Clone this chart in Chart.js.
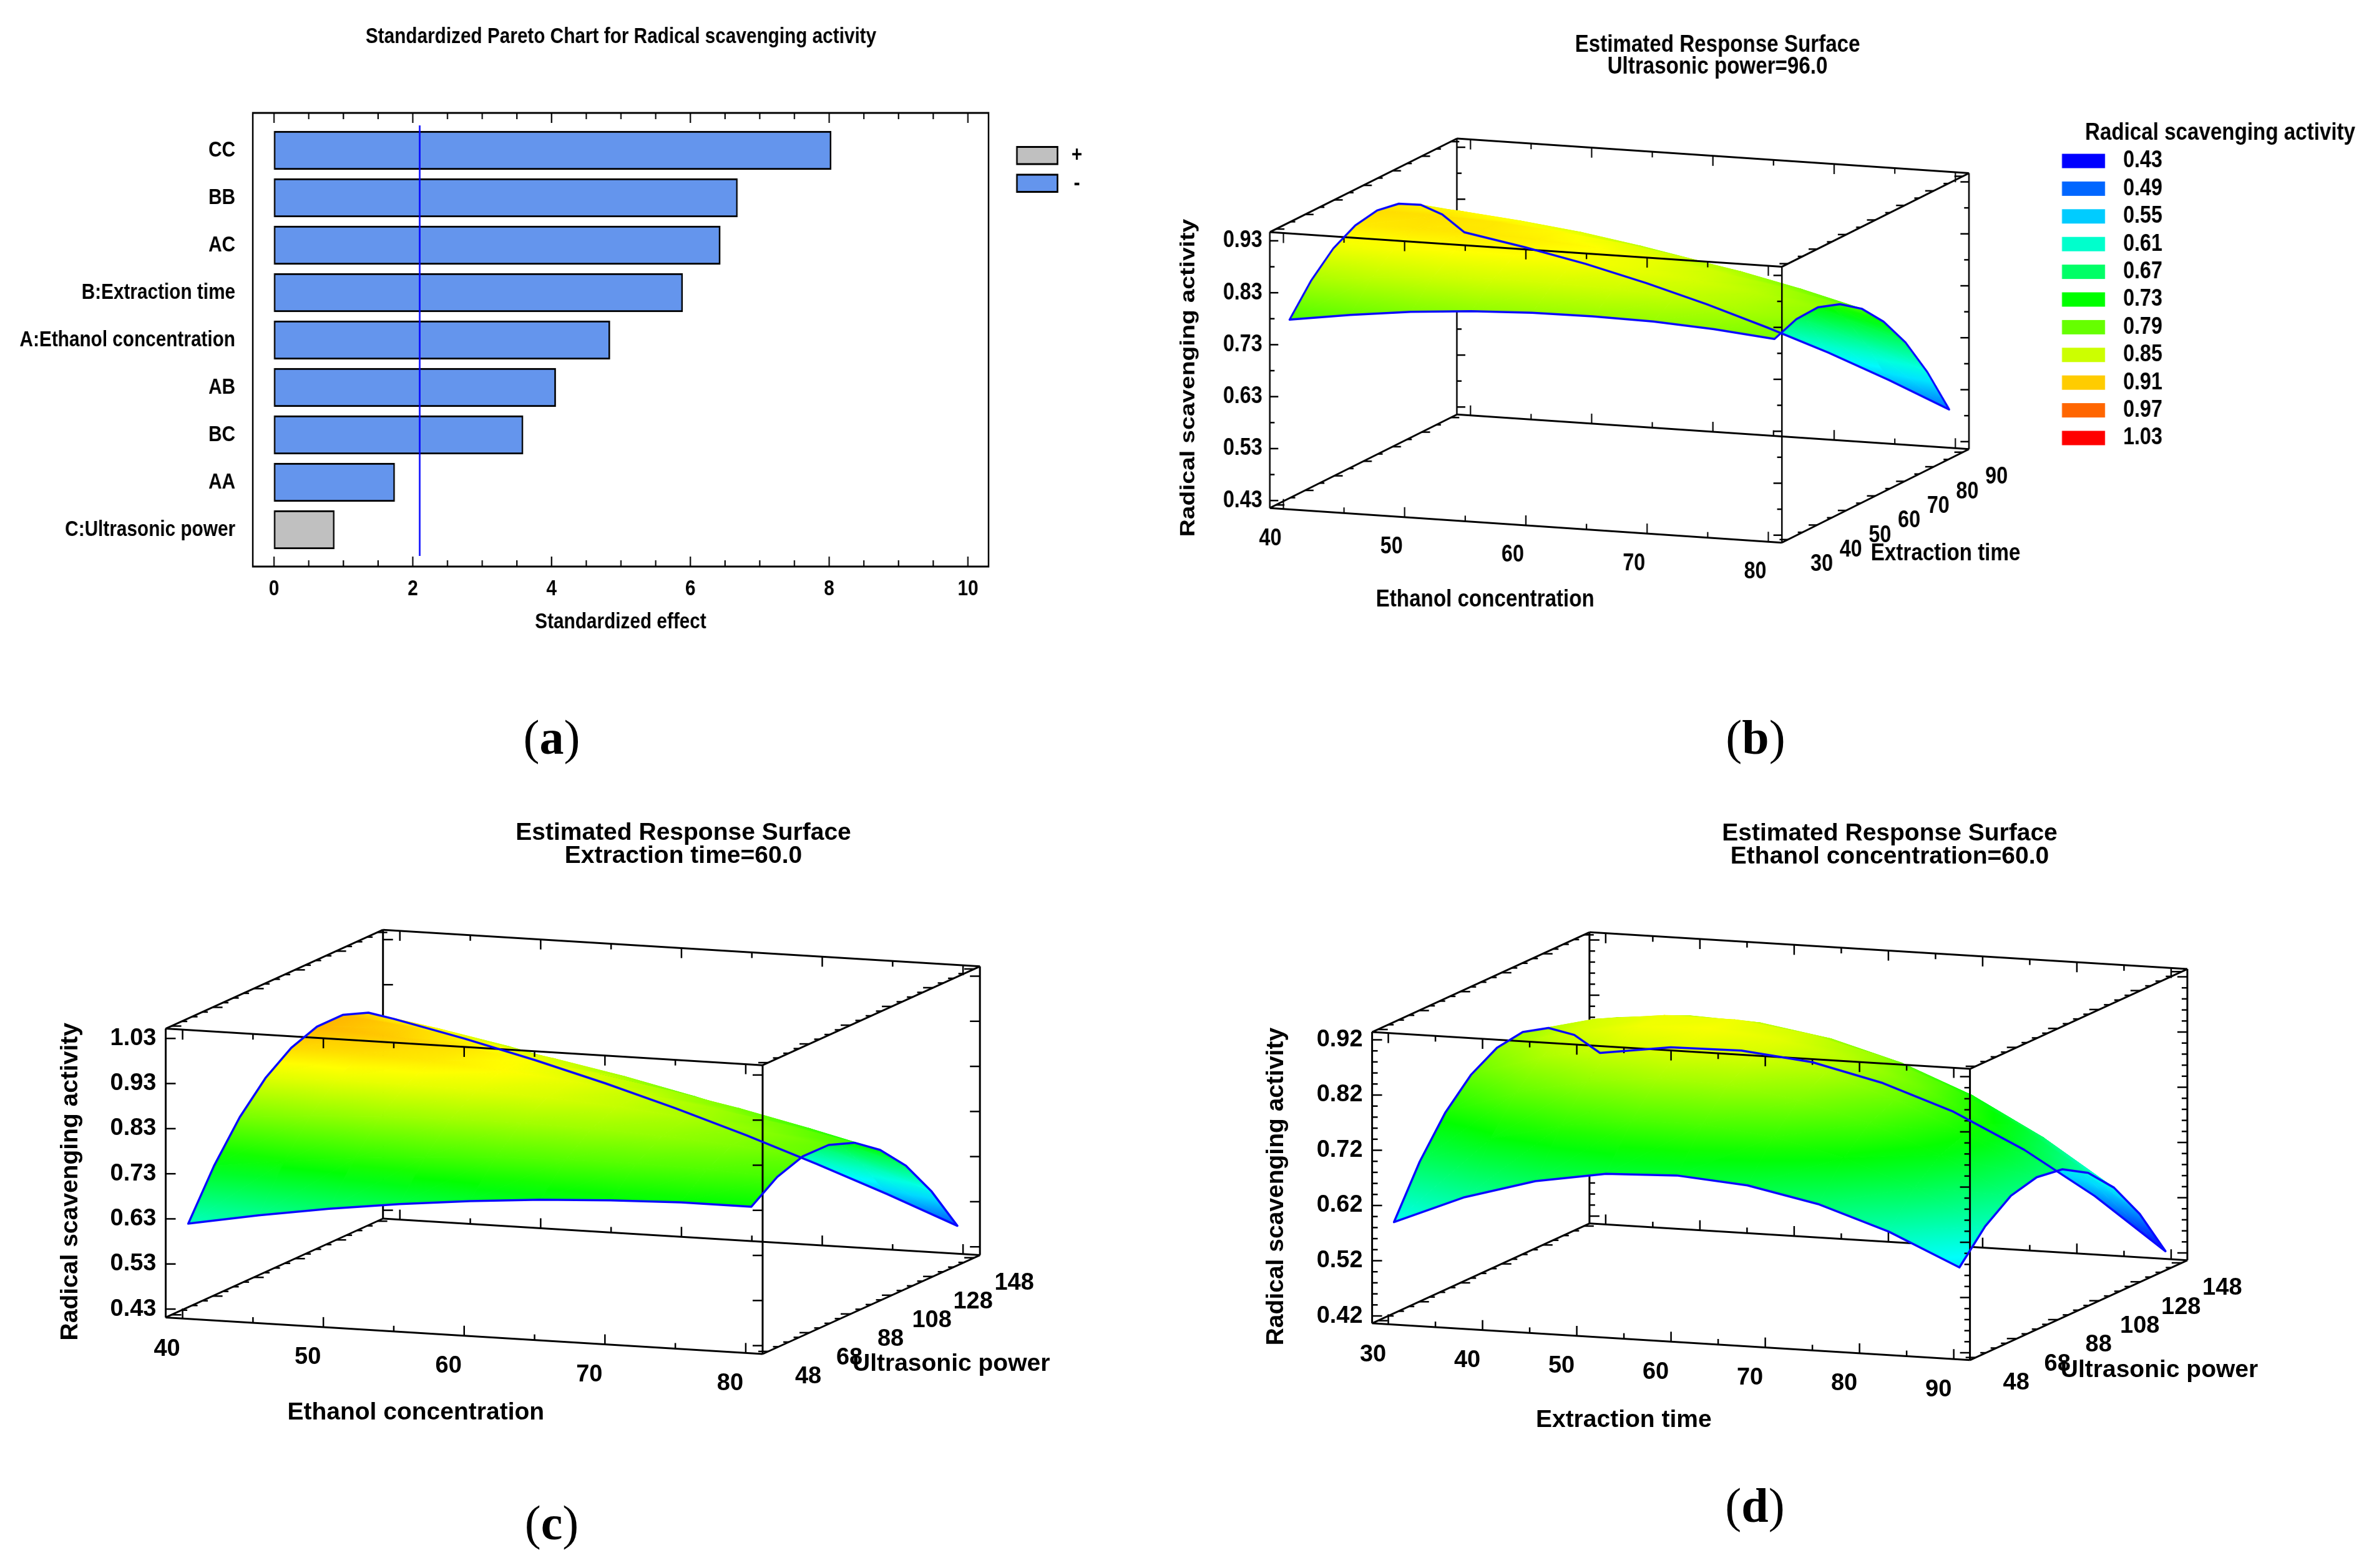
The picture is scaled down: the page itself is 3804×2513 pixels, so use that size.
<!DOCTYPE html>
<html><head><meta charset="utf-8">
<script src="https://cdn.jsdelivr.net/npm/chart.js@4.4.1/dist/chart.umd.min.js"></script>
<style>
html,body{margin:0;padding:0;background:#fff;overflow:hidden;}
body{width:3804px;height:2513px;position:relative;}
.wrap{position:absolute;}
.sq{transform:scaleX(0.85);transform-origin:0 0;}
.plab{position:absolute;font-family:'Liberation Serif','Times New Roman',serif;font-size:78px;line-height:1;transform:translate(-50%,-50%);color:#000;white-space:nowrap;}
</style></head><body>
<div class="wrap sq" style="left:0;top:0;width:2118px;height:1100px"><canvas id="ca" width="2118" height="1100"></canvas></div>
<div class="wrap sq" style="left:1850px;top:0;width:2299px;height:1100px"><canvas id="cb" width="2299" height="1100"></canvas></div>
<div class="wrap" style="left:0;top:1250px;width:1900px;height:1263px"><canvas id="cc" width="1900" height="1263"></canvas></div>
<div class="wrap" style="left:1900px;top:1250px;width:1904px;height:1263px"><canvas id="cd" width="1904" height="1263"></canvas></div>
<div class="plab" style="left:884px;top:1182px">(<b>a</b>)</div>
<div class="plab" style="left:2813px;top:1182px">(<b>b</b>)</div>
<div class="plab" style="left:884px;top:2441px">(<b>c</b>)</div>
<div class="plab" style="left:2812px;top:2413px">(<b>d</b>)</div>
<script>
// ---------------- DATA ----------------
// (a) Pareto chart
const effectNames = ['CC','BB','AC','B:Extraction time','A:Ethanol concentration','AB','BC','AA','C:Ultrasonic power'];
const effectValues = [8.03, 6.68, 6.43, 5.89, 4.84, 4.06, 3.59, 1.74, 0.87];
const effectSigns = ['-','-','-','-','-','-','-','-','+'];
const effectTicks = [0, 2, 4, 6, 8, 10];
const criticalEffect = 2.10;
const paretoTitle = 'Standardized Pareto Chart for Radical scavenging activity';

// colour legend
const legendValues = [0.43, 0.49, 0.55, 0.61, 0.67, 0.73, 0.79, 0.85, 0.91, 0.97, 1.03];

// (b) Ultrasonic power = 96.0 : rows = extraction time, columns = ethanol concentration
const bEthanol = [40, 45, 50, 55, 60, 65, 70, 75, 80];
const bTime = [30, 37.5, 45, 52.5, 60, 67.5, 75, 82.5, 90];
const bRSA = [
  [0.774, 0.791, 0.805, 0.814, 0.819, 0.820, 0.818, 0.811, 0.800],
  [0.829, 0.842, 0.850, 0.855, 0.855, 0.852, 0.844, 0.833, 0.817],
  [0.869, 0.876, 0.880, 0.880, 0.876, 0.867, 0.855, 0.839, 0.819],
  [0.892, 0.895, 0.894, 0.889, 0.880, 0.867, 0.850, 0.829, 0.804],
  [0.900, 0.898, 0.893, 0.883, 0.869, 0.851, 0.830, 0.804, 0.774],
  [0.892, 0.886, 0.875, 0.861, 0.842, 0.820, 0.793, 0.763, 0.728],
  [0.869, 0.857, 0.842, 0.823, 0.800, 0.772, 0.741, 0.706, 0.667],
  [0.829, 0.813, 0.793, 0.769, 0.741, 0.709, 0.673, 0.633, 0.589],
  [0.774, 0.753, 0.729, 0.700, 0.667, 0.630, 0.590, 0.545, 0.496]
];
const bEthanolTicks = [40, 50, 60, 70, 80];
const bTimeTicks = [30, 40, 50, 60, 70, 80, 90];
const bRSATicks = [0.43, 0.53, 0.63, 0.73, 0.83, 0.93];

// (c) Extraction time = 60.0 : rows = ultrasonic power, columns = ethanol concentration
const cEthanol = [40, 45, 50, 55, 60, 65, 70, 75, 80];
const cPower = [48, 60.5, 73, 85.5, 98, 110.5, 123, 135.5, 148];
const cRSA = [
  [0.616, 0.644, 0.668, 0.688, 0.704, 0.717, 0.725, 0.730, 0.730],
  [0.718, 0.738, 0.755, 0.767, 0.775, 0.780, 0.781, 0.777, 0.770],
  [0.800, 0.812, 0.821, 0.825, 0.826, 0.823, 0.816, 0.805, 0.790],
  [0.861, 0.866, 0.866, 0.863, 0.856, 0.845, 0.830, 0.812, 0.789],
  [0.902, 0.899, 0.892, 0.881, 0.866, 0.847, 0.825, 0.798, 0.768],
  [0.923, 0.912, 0.897, 0.878, 0.856, 0.829, 0.799, 0.764, 0.726],
  [0.923, 0.904, 0.881, 0.855, 0.825, 0.790, 0.752, 0.710, 0.665],
  [0.902, 0.876, 0.846, 0.811, 0.773, 0.731, 0.686, 0.636, 0.582],
  [0.862, 0.828, 0.790, 0.748, 0.702, 0.652, 0.598, 0.541, 0.480]
];
const cEthanolTicks = [40, 50, 60, 70, 80];
const cPowerTicks = [48, 68, 88, 108, 128, 148];
const cRSATicks = [0.43, 0.53, 0.63, 0.73, 0.83, 0.93, 1.03];

// (d) Ethanol concentration = 60.0 : rows = ultrasonic power, columns = extraction time
const dTime = [30, 37.5, 45, 52.5, 60, 67.5, 75, 82.5, 90];
const dPower = [48, 60.5, 73, 85.5, 98, 110.5, 123, 135.5, 148];
const dRSA = [
  [0.587, 0.640, 0.677, 0.698, 0.703, 0.693, 0.667, 0.625, 0.568],
  [0.675, 0.724, 0.756, 0.773, 0.774, 0.759, 0.729, 0.683, 0.621],
  [0.743, 0.787, 0.815, 0.828, 0.824, 0.805, 0.771, 0.721, 0.655],
  [0.790, 0.830, 0.854, 0.862, 0.854, 0.831, 0.792, 0.738, 0.667],
  [0.817, 0.853, 0.872, 0.876, 0.864, 0.837, 0.793, 0.734, 0.660],
  [0.824, 0.855, 0.870, 0.870, 0.853, 0.822, 0.774, 0.711, 0.632],
  [0.810, 0.837, 0.848, 0.843, 0.822, 0.786, 0.735, 0.667, 0.584],
  [0.776, 0.799, 0.805, 0.796, 0.771, 0.731, 0.675, 0.603, 0.515],
  [0.722, 0.740, 0.742, 0.729, 0.699, 0.655, 0.594, 0.518, 0.426]
];
const dTimeTicks = [30, 40, 50, 60, 70, 80, 90];
const dPowerTicks = [48, 68, 88, 108, 128, 148];
const dRSATicks = [0.42, 0.52, 0.62, 0.72, 0.82, 0.92];

// ---------------- RENDERING ----------------
const FONT = "'Liberation Sans', Arial, Helvetica, sans-serif";
Chart.defaults.font.family = FONT;
Chart.defaults.color = '#000';

function rampColor(z) {
  const lo = legendValues[0], hi = legendValues[legendValues.length - 1];
  let t = (z - lo) / (hi - lo);
  t = Math.max(0, Math.min(1, t));
  return 'hsl(' + (240 * (1 - t)).toFixed(1) + ',100%,50%)';
}

// ----- (a) Pareto -----
const paretoPlugin = {
  id: 'paretoFrame',
  afterDraw(chart) {
    const ctx = chart.ctx, a = chart.chartArea, x = chart.scales.x;
    ctx.save();
    ctx.strokeStyle = '#000';
    ctx.lineWidth = 3;
    ctx.strokeRect(a.left, a.top, a.right - a.left, a.bottom - a.top);
    ctx.lineWidth = 2.5;
    for (let k = 0; k <= 20; k++) {
      const v = k * 0.5;
      const px = x.getPixelForValue(v);
      const len = (k % 4 === 0) ? 16 : 10;
      ctx.beginPath();
      ctx.moveTo(px, a.top); ctx.lineTo(px, a.top + len);
      ctx.moveTo(px, a.bottom); ctx.lineTo(px, a.bottom - len);
      ctx.stroke();
    }
    const cx = x.getPixelForValue(criticalEffect);
    ctx.strokeStyle = '#0000ff';
    ctx.lineWidth = 3;
    ctx.beginPath(); ctx.moveTo(cx, a.top + 20); ctx.lineTo(cx, a.bottom - 17); ctx.stroke();
    // title
    ctx.fillStyle = '#000';
    ctx.font = 'bold 35px ' + FONT;
    ctx.textAlign = 'center'; ctx.textBaseline = 'middle';
    ctx.fillText(paretoTitle, 1170.6, 59);
    // legend
    const items = [['+', '#c0c0c0', 235.5], ['-', '#6495ed', 280]];
    items.forEach(([lab, col, y]) => {
      ctx.fillStyle = col;
      ctx.fillRect(1917, y, 76.5, 27.5);
      ctx.strokeStyle = '#000'; ctx.lineWidth = 3;
      ctx.strokeRect(1917, y, 76.5, 27.5);
      ctx.fillStyle = '#000';
      ctx.textAlign = 'center';
      ctx.fillText(lab, 2030, y + 14);
    });
    ctx.restore();
  }
};

new Chart(document.getElementById('ca'), {
  type: 'bar',
  data: { datasets: [{
    data: effectValues.map((v, i) => ({ x: v, y: i })),
    backgroundColor: effectSigns.map(s => s === '+' ? '#c0c0c0' : '#6495ed'),
    borderColor: '#000', borderWidth: 3, borderSkipped: false, barThickness: 62
  }]},
  options: {
    indexAxis: 'y', responsive: false, animation: false, devicePixelRatio: 1, events: [],
    layout: { padding: { left: 0, right: 254.5, top: 181, bottom: 72 } },
    plugins: { legend: { display: false }, tooltip: { enabled: false }, title: { display: false } },
    scales: {
      x: { type: 'linear', min: -0.306, max: 10.297, offset: false,
        afterBuildTicks: ax => { ax.ticks = effectTicks.map(v => ({ value: v })); },
        afterFit: s => { s.height = 120; },
        grid: { display: false, drawTicks: false }, border: { display: false },
        ticks: { font: { size: 35, weight: 'bold' }, padding: 15, autoSkip: false, maxRotation: 0 },
        title: { display: true, text: 'Standardized effect', font: { size: 35, weight: 'bold' }, padding: { top: 0, bottom: 10 } } },
      y: { type: 'linear', reverse: true, min: -0.789, max: 8.776, offset: false,
        afterBuildTicks: ax => { ax.ticks = effectNames.map((_, i) => ({ value: i })); },
        afterFit: s => { s.width = 476.5; },
        grid: { display: false, drawTicks: false }, border: { display: false },
        ticks: { font: { size: 35, weight: 'bold' }, padding: 33, autoSkip: false, callback: v => effectNames[v] } }
    }
  },
  plugins: [paretoPlugin]
});

// ----- 3D response surfaces -----
// fill one triangle with a linear gradient that reproduces the colour ramp exactly at its vertices
function shadeTri(ctx, p, z) {
  const a = p[0], b = p[1], c = p[2];
  const ux = b[0] - a[0], uy = b[1] - a[1], vx = c[0] - a[0], vy = c[1] - a[1];
  const det = ux * vy - uy * vx;
  const zmin = Math.min(z[0], z[1], z[2]), zmax = Math.max(z[0], z[1], z[2]);
  let fill;
  if (Math.abs(det) < 1e-3 || zmax - zmin < 1e-5) {
    fill = rampColor((zmin + zmax) / 2);
  } else {
    const dz1 = z[1] - z[0], dz2 = z[2] - z[0];
    const gx = (dz1 * vy - uy * dz2) / det;
    const gy = (ux * dz2 - vx * dz1) / det;
    const g2 = gx * gx + gy * gy;
    if (g2 < 1e-12) {
      fill = rampColor((zmin + zmax) / 2);
    } else {
      const A = [a[0] + gx * (zmin - z[0]) / g2, a[1] + gy * (zmin - z[0]) / g2];
      const B = [a[0] + gx * (zmax - z[0]) / g2, a[1] + gy * (zmax - z[0]) / g2];
      fill = ctx.createLinearGradient(A[0], A[1], B[0], B[1]);
      const n = 4;
      for (let k = 0; k <= n; k++) fill.addColorStop(k / n, rampColor(zmin + (zmax - zmin) * k / n));
    }
  }
  ctx.beginPath();
  ctx.moveTo(a[0], a[1]); ctx.lineTo(b[0], b[1]); ctx.lineTo(c[0], c[1]);
  ctx.closePath();
  ctx.fillStyle = fill; ctx.fill();
  ctx.strokeStyle = fill; ctx.lineWidth = 1; ctx.stroke();
}

function surfacePlugin(G) {
  return {
    id: 'surface3d',
    afterDraw(chart) {
      const ctx = chart.ctx, xs = chart.scales.x, ys = chart.scales.y, dsc = chart.scales.d;
      const P = (x, d, z) => {
        const px = xs.getPixelForValue(x), py = ys.getPixelForValue(z);
        const fx = (px - xs.left) / (xs.right - xs.left);
        const fd = (dsc.getPixelForValue(d) - dsc.left) / (dsc.right - dsc.left);
        return [px + fd * G.ed[0], py + fx * G.ex[1] + fd * G.ed[1]];
      };
      const [x0, x1] = G.xr, [d0, d1] = G.dr, [z0, z1] = G.zr;
      const seq = (t, step) => { const a = t[0], b = t[t.length - 1]; const n = Math.round((b - a) / step); const o = []; for (let k = 0; k <= n; k++) o.push(+(a + k * step).toFixed(4)); return o; };
      const isMaj = (t, v) => t.some(u => Math.abs(u - v) < 1e-6);
      const TX = { vals: seq(G.xTicks, G.xMinor), maj: v => isMaj(G.xTicks, v) };
      const TD = { vals: seq(G.dTicks, G.dMinor), maj: v => isMaj(G.dTicks, v) };
      const TZ = { vals: seq(G.zTicks, G.zMinor), maj: v => isMaj(G.zTicks, v) };
      const seg = (a, b) => { ctx.beginPath(); ctx.moveTo(a[0], a[1]); ctx.lineTo(b[0], b[1]); ctx.stroke(); };
      const edge = (a, b, T, fn, dir) => {
        ctx.strokeStyle = '#000';
        ctx.lineWidth = 3; seg(a, b);
        ctx.lineWidth = 2.5;
        T.vals.forEach(v => { const p = fn(v); const L = T.maj(v) ? 16 : 9; seg(p, [p[0] + dir[0] * L, p[1] + dir[1] * L]); });
      };
      ctx.save();
      ctx.lineCap = 'butt';
      // back edges
      edge(P(x0, d1, z0), P(x1, d1, z0), TX, v => P(v, d1, z0), [0, -1]);
      edge(P(x0, d1, z1), P(x1, d1, z1), TX, v => P(v, d1, z1), [0, 1]);
      edge(P(x0, d0, z0), P(x0, d1, z0), TD, v => P(x0, v, z0), [1, 0]);
      edge(P(x0, d1, z0), P(x0, d1, z1), TZ, v => P(x0, d1, v), [1, 0]);
      edge(P(x1, d1, z0), P(x1, d1, z1), TZ, v => P(x1, d1, v), [-1, 0]);
      // surface (painter's order: back to front)
      const nx = G.xs.length, nd = G.ds.length;
      const pts = G.z.map((row, j) => row.map((z, i) => P(G.xs[i], G.ds[j], z)));
      ctx.lineJoin = 'round';
      for (let j = nd - 2; j >= 0; j--) {
        for (let i = 0; i < nx - 1; i++) {
          const q00 = pts[j][i], q10 = pts[j][i + 1], q11 = pts[j + 1][i + 1], q01 = pts[j + 1][i];
          const z00 = G.z[j][i], z10 = G.z[j][i + 1], z11 = G.z[j + 1][i + 1], z01 = G.z[j + 1][i];
          shadeTri(ctx, [q01, q11, q00], [z01, z11, z00]);
          shadeTri(ctx, [q00, q11, q10], [z00, z11, z10]);
        }
      }
      // front edges
      edge(P(x0, d0, z0), P(x1, d0, z0), TX, v => P(v, d0, z0), [0, -1]);
      edge(P(x0, d0, z1), P(x1, d0, z1), TX, v => P(v, d0, z1), [0, 1]);
      edge(P(x0, d0, z1), P(x0, d1, z1), TD, v => P(x0, v, z1), [1, 0]);
      edge(P(x1, d0, z0), P(x1, d1, z0), TD, v => P(x1, v, z0), [-1, 0]);
      edge(P(x1, d0, z1), P(x1, d1, z1), TD, v => P(x1, v, z1), [-1, 0]);
      edge(P(x0, d0, z0), P(x0, d0, z1), TZ, v => P(x0, d0, v), [1, 0]);
      edge(P(x1, d0, z0), P(x1, d0, z1), TZ, v => P(x1, d0, v), [-1, 0]);
      // blue outline of the surface
      ctx.strokeStyle = '#0a0aff'; ctx.lineWidth = 3.5; ctx.lineJoin = 'round';
      ctx.beginPath();
      const path = [];
      for (let i = 0; i < nx; i++) path.push(pts[0][i]);
      for (let j = 1; j < nd; j++) path.push(pts[j][nx - 1]);
      for (let i = nx - 2; i >= 0; i--) path.push(pts[nd - 1][i]);
      for (let j = nd - 2; j > 0; j--) path.push(pts[j][0]);
      path.forEach((p, k) => { if (k) ctx.lineTo(p[0], p[1]); else ctx.moveTo(p[0], p[1]); });
      ctx.closePath(); ctx.stroke();
      // tick labels
      ctx.fillStyle = '#000';
      ctx.font = 'bold 38px ' + FONT;
      ctx.textBaseline = 'middle';
      ctx.textAlign = 'right';
      G.zTicks.forEach(v => { const p = P(x0, d0, v); ctx.fillText(v.toFixed(2), p[0] + G.zLabDx, p[1]); });
      ctx.textAlign = 'center';
      G.xTicks.forEach(v => { const p = P(v, d0, z0); ctx.fillText(String(v), p[0] + G.xLabOff[0], p[1] + G.xLabOff[1]); });
      G.dTicks.forEach(v => { const p = P(x1, v, z0); ctx.fillText(String(v), p[0] + G.dLabOff[0], p[1] + G.dLabOff[1]); });
      // titles
      ctx.font = 'bold 39px ' + FONT;
      ctx.fillText(G.xTitle, G.xTitlePos[0], G.xTitlePos[1]);
      ctx.fillText(G.dTitle, G.dTitlePos[0], G.dTitlePos[1]);
      G.title.forEach((t, k) => ctx.fillText(t, G.titlePos[0], G.titlePos[1] + k * G.titleGap));
      ctx.save();
      ctx.translate(G.zTitlePos[0], G.zTitlePos[1]); ctx.rotate(-Math.PI / 2);
      ctx.fillText(G.zTitle, 0, 0);
      ctx.restore();
      // colour legend
      if (G.legend) {
        const L = G.legend;
        ctx.textAlign = 'left';
        ctx.fillText(G.zTitle, L.titlePos[0], L.titlePos[1]);
        ctx.font = 'bold 38px ' + FONT;
        legendValues.forEach((v, k) => {
          const yc = L.y0 + k * L.dy;
          ctx.fillStyle = rampColor(v);
          ctx.fillRect(L.boxX, yc - L.boxH / 2, L.boxW, L.boxH);
          ctx.fillStyle = '#000';
          ctx.fillText(v.toFixed(2), L.labelX, yc);
        });
      }
      ctx.restore();
    }
  };
}

function makeSurface(G) {
  const pointsData = [];
  G.z.forEach(row => row.forEach((z, i) => pointsData.push({ x: G.xs[i], y: z })));
  const cv = document.getElementById(G.canvas);
  const W = cv.width, H = cv.height;
  return new Chart(cv, {
    type: 'scatter',
    data: { datasets: [{ data: pointsData, pointRadius: 0, pointHoverRadius: 0, showLine: false }] },
    options: {
      responsive: false, animation: false, devicePixelRatio: 1, events: [],
      layout: { padding: { left: G.FLB[0], right: W - G.FLB[0] - G.ex[0], top: G.FLB[1] - G.hz, bottom: H - G.FLB[1] } },
      plugins: { legend: { display: false }, tooltip: { enabled: false } },
      scales: {
        x: { type: 'linear', min: G.xr[0], max: G.xr[1], display: false },
        y: { type: 'linear', min: G.zr[0], max: G.zr[1], display: false },
        d: { type: 'linear', axis: 'x', position: 'bottom', min: G.dr[0], max: G.dr[1], display: false }
      }
    },
    plugins: [surfacePlugin(G)]
  });
}

makeSurface({
  canvas: 'cb',
  FLB: [217.3, 814.2], ex: [965.3, 55.5], ed: [352.6, -149.9], hz: 442.2,
  xr: [38.88, 81.12], dr: [27.9, 92.1], zr: [0.4156, 0.9467],
  xs: bEthanol, ds: bTime, z: bRSA,
  xTicks: bEthanolTicks, dTicks: bTimeTicks, zTicks: bRSATicks,
  xMinor: 5, dMinor: 5, zMinor: 0.05,
  xTitle: 'Ethanol concentration', dTitle: 'Extraction time', zTitle: 'Radical scavenging activity',
  title: ['Estimated Response Surface', 'Ultrasonic power=96.0'], titlePos: [1061.2, 72], titleGap: 35,
  zTitlePos: [64.4, 605.6], xTitlePos: [623.2, 961.3], dTitlePos: [1491.2, 887.3],
  zLabDx: -14.2, xLabOff: [-24.7, 48], dLabOff: [63.5, 40],
  legend: { titlePos: [1754.1, 213], boxX: 1710.6, boxW: 81.2, boxH: 23, y0: 258, dy: 44.4, labelX: 1825.9 }
});

makeSurface({
  canvas: 'cc',
  FLB: [265.5, 861.4], ex: [956.5, 58.6], ed: [348.2, -158.4], hz: 462.8,
  xr: [38.8, 81.2], dr: [45.25, 150.75], zr: [0.4115, 1.0517],
  xs: cEthanol, ds: cPower, z: cRSA,
  xTicks: cEthanolTicks, dTicks: cPowerTicks, zTicks: cRSATicks,
  xMinor: 5, dMinor: 5, zMinor: 0.1,
  xTitle: 'Ethanol concentration', dTitle: 'Ultrasonic power', zTitle: 'Radical scavenging activity',
  title: ['Estimated Response Surface', 'Extraction time=60.0'], titlePos: [1095, 85], titleGap: 37,
  zTitlePos: [113, 643.7], xTitlePos: [666.3, 1014.3], dTitlePos: [1524.2, 936.2],
  zLabDx: -15, xLabOff: [-25, 49], dLabOff: [64, 40.5]
});

makeSurface({
  canvas: 'cd',
  FLB: [298.6, 870.8], ex: [958, 59], ed: [348.3, -160], hz: 466.7,
  xr: [28.28, 91.72], dr: [45.25, 150.75], zr: [0.4067, 0.934],
  xs: dTime, ds: dPower, z: dRSA,
  xTicks: dTimeTicks, dTicks: dPowerTicks, zTicks: dRSATicks,
  xMinor: 5, dMinor: 5, zMinor: 0.02,
  xTitle: 'Extraction time', dTitle: 'Ultrasonic power', zTitle: 'Radical scavenging activity',
  title: ['Estimated Response Surface', 'Ethanol concentration=60.0'], titlePos: [1128, 86.5], titleGap: 36.5,
  zTitlePos: [145, 651.6], xTitlePos: [701.8, 1026], dTitlePos: [1560, 946.4],
  zLabDx: -15, xLabOff: [-24.5, 49], dLabOff: [65, 41]
});
</script>
</body></html>
